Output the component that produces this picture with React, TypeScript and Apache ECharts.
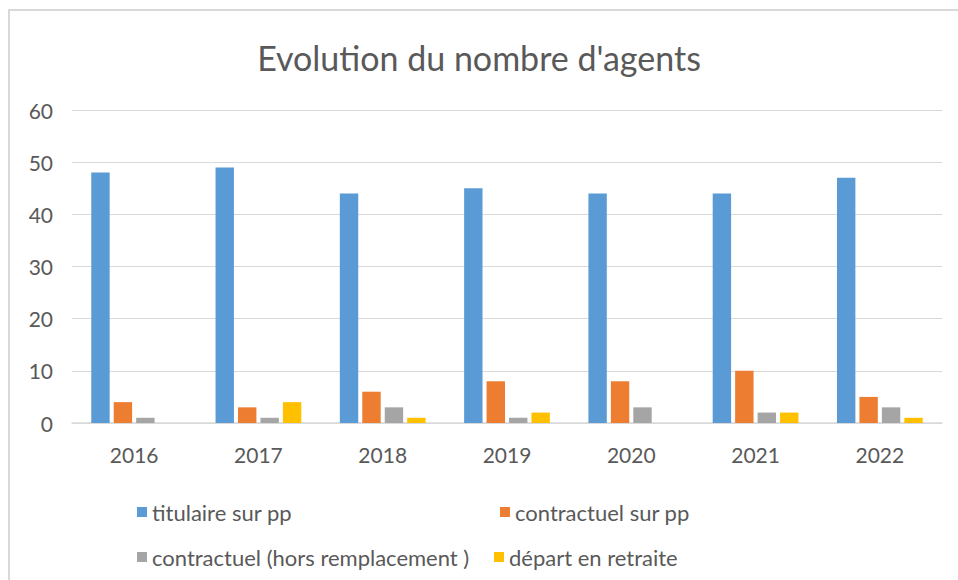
import React, { useEffect, useRef } from "react";
import * as echarts from "echarts";

const categories = ["2016", "2017", "2018", "2019", "2020", "2021", "2022"];
const titulaire = [48, 49, 44, 45, 44, 44, 47];
const contractuelPP = [4, 3, 6, 8, 8, 10, 5];
const contractuelHors = [1, 1, 3, 1, 3, 2, 3];
const depart = [0, 4, 1, 2, 0, 2, 1];
const seriesNames = [
  "titulaire sur pp",
  "contractuel sur pp",
  "contractuel (hors remplacement )",
  "départ en retraite",
];
const colors = ["#5b9bd5", "#ed7d31", "#a5a5a5", "#ffc000"];
const FONT = "Lato";

export default function App() {
  const ref = useRef<HTMLDivElement>(null);
  useEffect(() => {
    if (!ref.current) return;
    const chart = echarts.init(ref.current, undefined, { renderer: "svg" });
    const values = [titulaire, contractuelPP, contractuelHors, depart];
    const legendPos = [
      { left: 132, top: 496 },
      { left: 495, top: 496 },
      { left: 132, top: 541 },
      { left: 489, top: 541 },
    ];
    chart.setOption({
      animation: false,
      color: colors,
      title: {
        text: "Evolution du nombre d'agents",
        left: "center",
        top: 35,
        textStyle: {
          fontFamily: FONT,
          fontSize: 34,
          fontWeight: "normal",
          color: "#595959",
        },
      },
      legend: seriesNames.map((n, i) => ({
        data: [n],
        left: legendPos[i].left,
        top: legendPos[i].top,
        itemWidth: 10,
        itemHeight: 10,
        icon: "rect",
        textStyle: { fontFamily: FONT, fontSize: 22, color: "#595959" },
      })),
      grid: { left: 72, right: 16, top: 110, bottom: 157, containLabel: false },
      xAxis: {
        type: "category",
        data: categories,
        axisLine: { lineStyle: { color: "#d9d9d9", width: 1.5 } },
        axisTick: { show: false },
        axisLabel: {
          fontFamily: FONT,
          fontSize: 21,
          color: "#595959",
          margin: 21,
        },
      },
      yAxis: {
        type: "value",
        min: 0,
        max: 60,
        interval: 10,
        axisLine: { show: false },
        axisTick: { show: false },
        splitLine: { lineStyle: { color: "#d9d9d9", width: 1 } },
        axisLabel: {
          fontFamily: FONT,
          fontSize: 21,
          color: "#595959",
          margin: 19,
        },
      },
      series: seriesNames.map((n, i) => ({
        name: n,
        type: "bar",
        data: values[i],
        barGap: "22%",
        barCategoryGap: "31%",
        itemStyle: { color: colors[i] },
      })),
      graphic: [
        {
          type: "line",
          shape: { x1: 8, y1: 10, x2: 958, y2: 10 },
          style: { stroke: "#d9d9d9", lineWidth: 2 },
        },
        {
          type: "line",
          shape: { x1: 9, y1: 10, x2: 9, y2: 580 },
          style: { stroke: "#d9d9d9", lineWidth: 2 },
        },
      ],
    });
    return () => chart.dispose();
  }, []);
  return (
    <div
      ref={ref}
      style={{ position: "fixed", left: 0, top: 0, width: 958, height: 580, background: "#fff" }}
    />
  );
}
